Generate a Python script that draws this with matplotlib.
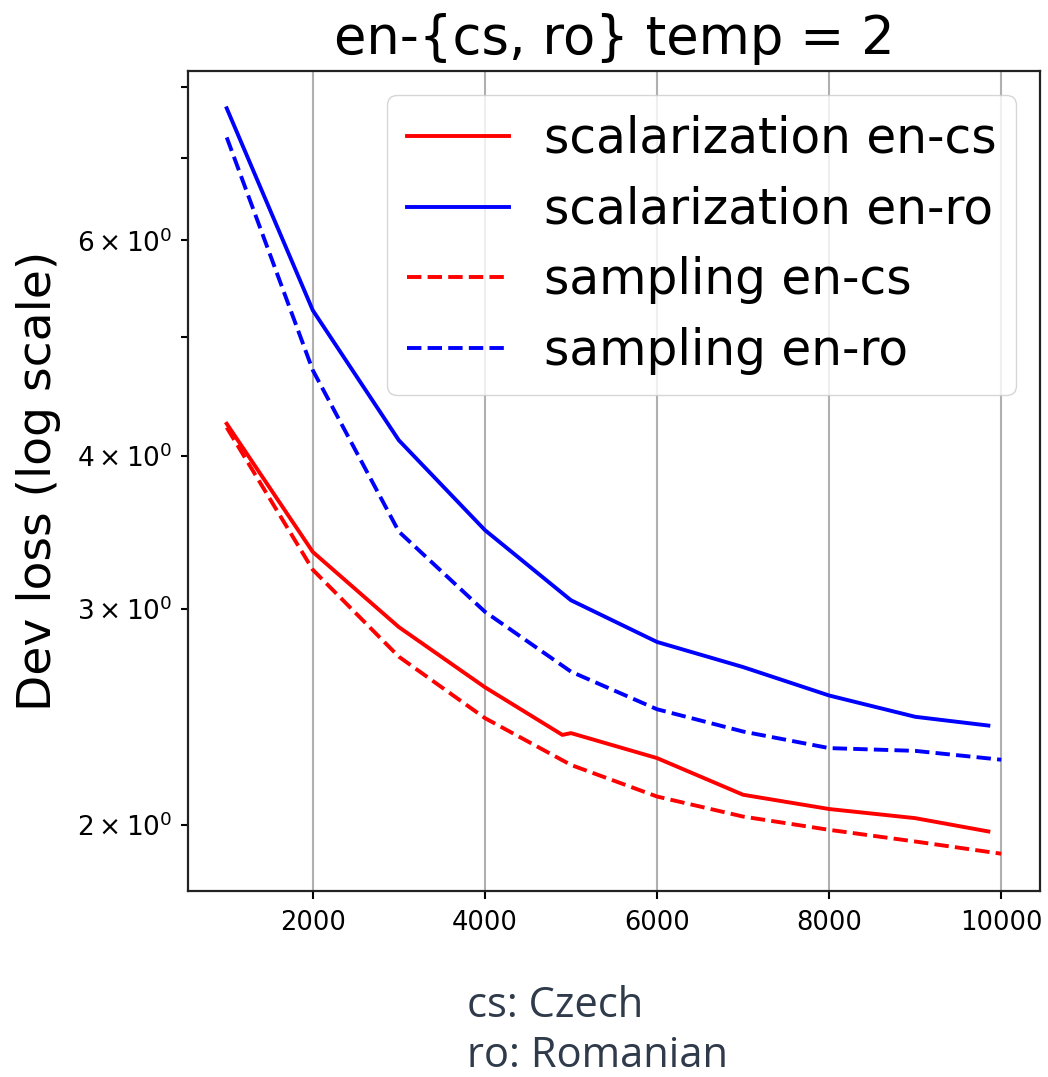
import matplotlib
matplotlib.use("Agg")
import matplotlib.pyplot as plt

# Training steps at which dev loss was logged
scal_cs_steps = [1000, 2000, 3000, 4000, 4900, 5000, 6000, 7000, 8000, 9000, 9850]
scal_ro_steps = [1000, 2000, 3000, 4000, 5000, 6000, 7000, 8000, 9000, 9850]
samp_steps = [1000, 2000, 3000, 4000, 5000, 6000, 7000, 8000, 9000, 10000]

# Dev loss values
scal_cs = [4.25, 3.34, 2.90, 2.59, 2.368, 2.376, 2.267, 2.116, 2.06, 2.025, 1.975]
scal_ro = [7.69, 5.26, 4.12, 3.48, 3.05, 2.82, 2.69, 2.55, 2.45, 2.41]
samp_cs = [4.22, 3.23, 2.743, 2.444, 2.238, 2.109, 2.031, 1.981, 1.938, 1.894]
samp_ro = [7.28, 4.70, 3.47, 2.985, 2.667, 2.485, 2.383, 2.31, 2.298, 2.26]

series_labels = ["scalarization en-cs", "scalarization en-ro",
                 "sampling en-cs", "sampling en-ro"]
title_text = "en-{cs, ro} temp = 2"
ylabel_text = "Dev loss (log scale)"
caption_lines = ["cs: Czech", "ro: Romanian"]

W, H = 1048, 1077
fig = plt.figure(figsize=(W / 100, H / 100), dpi=100)
ax = fig.add_axes([188 / W, 1 - 891 / H, (1040 - 188) / W, (891 - 71) / H])

lw = 2.8
ax.plot(scal_cs_steps, scal_cs, color="red", lw=lw, label=series_labels[0])
ax.plot(scal_ro_steps, scal_ro, color="blue", lw=lw, label=series_labels[1])
ax.plot(samp_steps, samp_cs, color="red", lw=lw, ls="--", label=series_labels[2])
ax.plot(samp_steps, samp_ro, color="blue", lw=lw, ls="--", label=series_labels[3])

ax.set_yscale("log")
ax.set_xticks([2000, 4000, 6000, 8000, 10000])
ax.grid(axis="x", color="#b0b0b0", lw=1.5)
ax.set_axisbelow(True)

for s in ax.spines.values():
    s.set_linewidth(1.6)
    s.set_color("#222222")
ax.tick_params(axis="x", which="both", labelsize=18.5, width=1.5, length=6, pad=8)
ax.tick_params(axis="y", which="both", labelsize=19, width=1.5, length=5, pad=6)

ax.set_title(title_text, fontsize=38, pad=12)
ax.set_ylabel(ylabel_text, fontsize=34, labelpad=12)

leg = ax.legend(loc="upper right", fontsize=35, handlelength=2.1,
                labelspacing=0.47, handletextpad=0.72, borderpad=0.4,
                borderaxespad=0.5, framealpha=0.8, fancybox=True)

for i, line in enumerate(caption_lines):
    fig.text(467 / W, 1 - (1017 + 50 * i) / H, line, fontsize=30,
             family="Open Sans", color="#2f3a4a", ha="left", va="baseline")

fig.savefig("out.png", dpi=100)
